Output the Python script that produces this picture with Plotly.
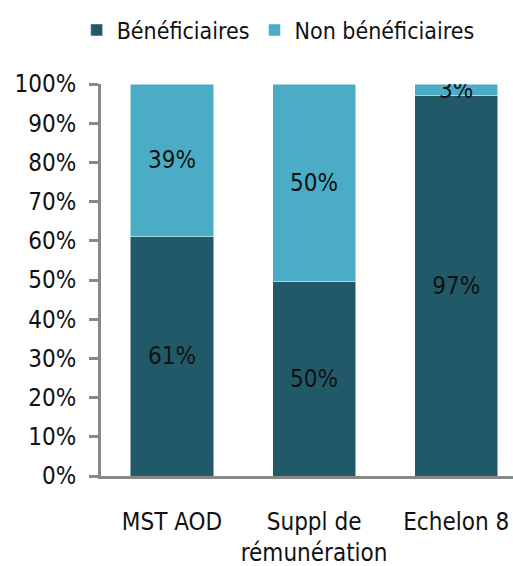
import plotly.graph_objects as go

categories = ["MST AOD", "Suppl de<br>rémunération", "Echelon 8"]
series_names = ["Bénéficiaires", "Non bénéficiaires"]
beneficiaires = [0.61, 0.496, 0.97]
non_beneficiaires = [0.39, 0.504, 0.03]
tick_vals = [i / 10 for i in range(11)]
tick_text = [f"{i*10}%" for i in range(11)]

FONT = "DejaVu Sans Condensed"
FS = 24

fig = go.Figure()
fig.add_trace(go.Bar(
    name=series_names[0], x=categories, y=beneficiaires,
    marker=dict(color="#215968", line=dict(color="#ffffff", width=0.5)),
    texttemplate="%{y:.0%}", textposition="inside", textangle=0,
    insidetextanchor="middle", constraintext="none",
    textfont=dict(color="#111111", size=FS, family=FONT),
))
fig.add_trace(go.Bar(
    name=series_names[1], x=categories, y=non_beneficiaires,
    marker=dict(color="#4BACC6", line=dict(color="#ffffff", width=0.5)),
    texttemplate="%{y:.0%}", textposition="inside", textangle=0,
    insidetextanchor="middle", constraintext="none",
    textfont=dict(color="#111111", size=FS, family=FONT),
))

fig.update_layout(
    barmode="stack", bargap=0.415,
    width=513, height=566,
    margin=dict(l=101, r=0, t=84, b=90, autoexpand=False),
    paper_bgcolor="white", plot_bgcolor="white",
    font=dict(family=FONT, size=FS, color="#111111"),
    showlegend=True,
    legend=dict(orientation="h", x=0.43, xanchor="center",
                y=0.947, yref="container", yanchor="middle",
                font=dict(size=23), traceorder="normal", itemwidth=30),
    xaxis=dict(range=[-0.5, 2.4], showline=True, linecolor="#888888", linewidth=3,
               ticks="", ticklabelstandoff=22, tickfont=dict(size=FS), automargin=False),
    yaxis=dict(range=[0, 1], tickvals=tick_vals, ticktext=tick_text, showgrid=False,
               zeroline=False, showline=True, linecolor="#888888", linewidth=3,
               ticks="outside", ticklen=9, tickwidth=3, tickcolor="#888888",
               ticklabelstandoff=8, tickfont=dict(size=FS), automargin=False),
)
fig.write_html("out.html", config={"displayModeBar": False},
               post_script="document.body.style.margin='0px';")
